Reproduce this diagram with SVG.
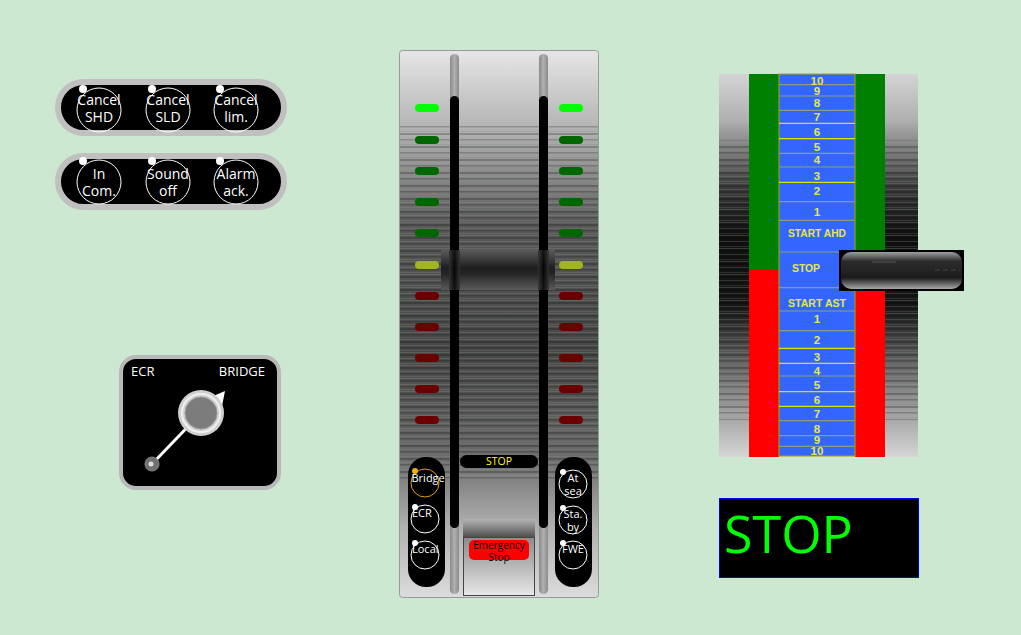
<svg xmlns="http://www.w3.org/2000/svg" width="1021" height="635" viewBox="0 0 1021 635">
<style>
.ui{font-family:"Open Sans","Liberation Sans",sans-serif;fill:#fff}
.btn{fill:none;stroke:#fff;stroke-width:1}
.dot{fill:#fff}
.led{rx:4;ry:4}
.sc{font-family:"Liberation Sans",Arial,sans-serif;font-weight:bold;font-size:11.5px;fill:#e6e64a;text-anchor:middle}
.ly{stroke:#e0e000;stroke-width:1.2}
.lg{stroke:#8c9c7c;stroke-width:1.2}
</style>
<defs>
<linearGradient id="telBg" x1="0" y1="0" x2="0" y2="1">
<stop offset="0" stop-color="#e6e6e6"/>
<stop offset="0.16" stop-color="#adadad"/>
<stop offset="0.32" stop-color="#5a5a5a"/>
<stop offset="0.55" stop-color="#474747"/>
<stop offset="0.74" stop-color="#6a6a6a"/>
<stop offset="0.87" stop-color="#b0b0b0"/>
<stop offset="1" stop-color="#dcdcdc"/>
</linearGradient>
<linearGradient id="indBg" x1="0" y1="0" x2="0" y2="1">
<stop offset="0" stop-color="#d4d4d4"/>
<stop offset="0.12" stop-color="#b0b0b0"/>
<stop offset="0.3" stop-color="#3a3a3a"/>
<stop offset="0.42" stop-color="#111"/>
<stop offset="0.6" stop-color="#151515"/>
<stop offset="0.78" stop-color="#707070"/>
<stop offset="1" stop-color="#d6d6d6"/>
</linearGradient>
<pattern id="streak" width="40" height="13" patternUnits="userSpaceOnUse">
<rect x="0" y="1" width="40" height="1" fill="#7a8c7a" opacity="0.35"/>
<rect x="0" y="3" width="40" height="2" fill="#000" opacity="0.22"/>
<rect x="0" y="7" width="40" height="1" fill="#9aac9a" opacity="0.22"/>
<rect x="0" y="9" width="40" height="1.5" fill="#000" opacity="0.2"/>
<rect x="0" y="12" width="40" height="1" fill="#8a9a8a" opacity="0.2"/>
</pattern>
<linearGradient id="handle" x1="0" y1="0" x2="0" y2="1">
<stop offset="0" stop-color="#5a5a5a"/>
<stop offset="0.45" stop-color="#1e1e1e"/>
<stop offset="0.6" stop-color="#262626"/>
<stop offset="1" stop-color="#5a5a5a"/>
</linearGradient>
<linearGradient id="trackShade" x1="0" y1="0" x2="1" y2="0">
<stop offset="0" stop-color="#333"/>
<stop offset="0.5" stop-color="#000"/>
<stop offset="1" stop-color="#333"/>
</linearGradient>
<linearGradient id="track" x1="0" y1="0" x2="1" y2="0">
<stop offset="0" stop-color="#8a8a8a"/>
<stop offset="0.5" stop-color="#b0b0b0"/>
<stop offset="1" stop-color="#8a8a8a"/>
</linearGradient>
<linearGradient id="esTop" x1="0" y1="0" x2="0" y2="1">
<stop offset="0" stop-color="#b4b4b4"/>
<stop offset="1" stop-color="#505050"/>
</linearGradient>
<linearGradient id="esBox" x1="0" y1="0" x2="0" y2="1">
<stop offset="0" stop-color="#8c8c8c"/>
<stop offset="0.5" stop-color="#b8b8b8"/>
<stop offset="1" stop-color="#e8e8e8"/>
</linearGradient>
<linearGradient id="rHandle" x1="0" y1="0" x2="0" y2="1">
<stop offset="0" stop-color="#a0a0a0"/>
<stop offset="0.25" stop-color="#2c2c2c"/>
<stop offset="0.7" stop-color="#1c1c1c"/>
<stop offset="1" stop-color="#a8a8a8"/>
</linearGradient>
</defs>
<rect width="1021" height="635" fill="#cde8d0"/>

<g id="cancel-panel">
<rect x="58" y="82" width="226" height="51" rx="25.5" fill="#000" stroke="#c0c0c0" stroke-width="6"/>
<g id="btn-cancel-shd"><circle class="btn" cx="99" cy="110" r="22"/><circle class="dot" cx="83" cy="89" r="4"/>
<text class="ui" font-size="14" text-anchor="middle" x="99" y="105">Cancel</text><text class="ui" font-size="14" text-anchor="middle" x="99" y="122">SHD</text></g>
<g id="btn-cancel-sld"><circle class="btn" cx="168" cy="110" r="22"/><circle class="dot" cx="152" cy="89" r="4"/>
<text class="ui" font-size="14" text-anchor="middle" x="168" y="105">Cancel</text><text class="ui" font-size="14" text-anchor="middle" x="168" y="122">SLD</text></g>
<g id="btn-cancel-lim"><circle class="btn" cx="236" cy="110" r="22"/><circle class="dot" cx="220" cy="89" r="4"/>
<text class="ui" font-size="14" text-anchor="middle" x="236" y="105">Cancel</text><text class="ui" font-size="14" text-anchor="middle" x="236" y="122">lim.</text></g>
</g>

<g id="alarm-panel">
<rect x="58" y="156" width="226" height="51" rx="25.5" fill="#000" stroke="#c0c0c0" stroke-width="6"/>
<g id="btn-in-com"><circle class="btn" cx="99" cy="182" r="22"/><circle class="dot" cx="83" cy="161" r="4"/>
<text class="ui" font-size="14" text-anchor="middle" x="99" y="179">In</text><text class="ui" font-size="14" text-anchor="middle" x="99" y="196">Com.</text></g>
<g id="btn-sound-off"><circle class="btn" cx="168" cy="182" r="22"/><circle class="dot" cx="152" cy="161" r="4"/>
<text class="ui" font-size="14" text-anchor="middle" x="168" y="179">Sound</text><text class="ui" font-size="14" text-anchor="middle" x="168" y="196">off</text></g>
<g id="btn-alarm-ack"><circle class="btn" cx="236" cy="182" r="22"/><circle class="dot" cx="220" cy="161" r="4"/>
<text class="ui" font-size="14" text-anchor="middle" x="236" y="179">Alarm</text><text class="ui" font-size="14" text-anchor="middle" x="236" y="196">ack.</text></g>
</g>

<g id="ecr-bridge-switch">
<rect x="121" y="357" width="158" height="131" rx="15" fill="#000" stroke="#b8b8b8" stroke-width="4"/>
<text class="ui" font-size="13" x="131" y="376">ECR</text>
<text class="ui" font-size="13" x="265" y="376" text-anchor="end">BRIDGE</text>
<line x1="201" y1="413" x2="152" y2="464" stroke="#fff" stroke-width="3"/>
<circle cx="152" cy="464" r="7" fill="#707070" stroke="#888" stroke-width="1"/>
<circle cx="151" cy="464" r="2.5" fill="#ddd"/>
<polygon points="225,391 211,397 222,406" fill="#fff"/>
<circle cx="201" cy="413" r="23" fill="#cfcfcf"/>
<circle cx="201" cy="413" r="19" fill="none" stroke="#f0f0f0" stroke-width="2"/>
<circle cx="201" cy="413" r="16" fill="#7c7c7c" stroke="#9a9a9a" stroke-width="1"/>
</g>

<g id="telegraph">
<rect x="399.5" y="50.5" width="199" height="547" rx="3" fill="url(#telBg)" stroke="#9a9a9a" stroke-width="1"/>
<rect x="400" y="125" width="198" height="355" fill="url(#streak)"/>
<rect x="450" y="54" width="9" height="540" rx="4.5" fill="url(#track)"/>
<rect x="539" y="54" width="9" height="540" rx="4.5" fill="url(#track)"/>
<rect x="450" y="96" width="9" height="432" rx="4.5" fill="#000"/>
<rect x="539" y="96" width="9" height="432" rx="4.5" fill="#000"/>
<g id="leds">
<rect class="led" x="415" y="104" width="24" height="8" fill="#00ff00"/><rect class="led" x="559" y="104" width="24" height="8" fill="#00ff00"/>
<rect class="led" x="415" y="136" width="24" height="8" fill="#006600"/><rect class="led" x="559" y="136" width="24" height="8" fill="#006600"/>
<rect class="led" x="415" y="167" width="24" height="8" fill="#006600"/><rect class="led" x="559" y="167" width="24" height="8" fill="#006600"/>
<rect class="led" x="415" y="198" width="24" height="8" fill="#006600"/><rect class="led" x="559" y="198" width="24" height="8" fill="#006600"/>
<rect class="led" x="415" y="229" width="24" height="8" fill="#006600"/><rect class="led" x="559" y="229" width="24" height="8" fill="#006600"/>
<rect class="led" x="415" y="261" width="24" height="8" fill="#a2b41e"/><rect class="led" x="559" y="261" width="24" height="8" fill="#a2b41e"/>
<rect class="led" x="415" y="292" width="24" height="8" fill="#6b0000"/><rect class="led" x="559" y="292" width="24" height="8" fill="#6b0000"/>
<rect class="led" x="415" y="323" width="24" height="8" fill="#6b0000"/><rect class="led" x="559" y="323" width="24" height="8" fill="#6b0000"/>
<rect class="led" x="415" y="354" width="24" height="8" fill="#6b0000"/><rect class="led" x="559" y="354" width="24" height="8" fill="#6b0000"/>
<rect class="led" x="415" y="385" width="24" height="8" fill="#6b0000"/><rect class="led" x="559" y="385" width="24" height="8" fill="#6b0000"/>
<rect class="led" x="415" y="416" width="24" height="8" fill="#6b0000"/><rect class="led" x="559" y="416" width="24" height="8" fill="#6b0000"/>
</g>
<g id="telegraph-handle">
<rect x="441" y="250" width="114" height="40" fill="url(#handle)"/>
<rect x="449" y="250" width="11" height="40" fill="url(#trackShade)" opacity="0.8"/>
<rect x="538" y="250" width="11" height="40" fill="url(#trackShade)" opacity="0.8"/>
</g>
<g id="stop-label">
<rect x="460" y="455" width="78" height="13" rx="6.5" fill="#000"/>
<text class="ui" font-size="10.5" x="499" y="465" text-anchor="middle" style="fill:#ffff00">STOP</text>
</g>
<g id="mode-buttons">
<rect x="408" y="457" width="37" height="130" rx="18" fill="#000"/>
<circle cx="425" cy="483" r="14" fill="none" stroke="#e0a000" stroke-width="1"/><circle cx="415" cy="471" r="3" fill="#f0b000"/>
<text class="ui" font-size="11" x="411.5" y="482">Bridge</text>
<circle class="btn" cx="425" cy="519" r="14"/><circle class="dot" cx="415" cy="507" r="3"/>
<text class="ui" font-size="11" x="412" y="517">ECR</text>
<circle class="btn" cx="425" cy="555" r="14"/><circle class="dot" cx="415" cy="543" r="3"/>
<text class="ui" font-size="11" x="412" y="553">Local</text>
</g>
<g id="state-buttons">
<rect x="555" y="457" width="37" height="130" rx="18" fill="#000"/>
<circle class="btn" cx="573" cy="484" r="14"/><circle class="dot" cx="563" cy="472" r="3"/>
<text class="ui" font-size="11" x="573" y="482" text-anchor="middle">At</text><text class="ui" font-size="11" x="573" y="495" text-anchor="middle">sea</text>
<circle class="btn" cx="573" cy="520" r="14"/><circle class="dot" cx="563" cy="508" r="3"/>
<text class="ui" font-size="11" x="573" y="518" text-anchor="middle">Sta.</text><text class="ui" font-size="11" x="573" y="531" text-anchor="middle">by</text>
<circle class="btn" cx="573" cy="555" r="14"/><circle class="dot" cx="563" cy="543" r="3"/>
<text class="ui" font-size="11" x="573" y="553" text-anchor="middle">FWE</text>
</g>
<g id="emergency-stop">
<rect x="463" y="519" width="72" height="18" fill="url(#esTop)"/>
<rect x="463.5" y="537.5" width="71" height="58" fill="url(#esBox)" stroke="#444" stroke-width="1"/>
<rect x="469" y="540" width="60" height="20" rx="5" fill="#ff0000"/>
<text class="ui" font-size="10" x="499" y="549" text-anchor="middle" style="fill:#000">Emergency</text>
<text class="ui" font-size="10" x="499" y="561" text-anchor="middle" style="fill:#000">Stop</text>
</g>
</g>

<g id="order-indicator">
<rect x="719" y="74" width="199" height="383" fill="url(#indBg)"/>
<rect x="719" y="140" width="199" height="280" fill="url(#streak)"/>
<rect x="749" y="74" width="30" height="196" fill="#008000"/>
<rect x="749" y="270" width="30" height="187" fill="#ff0000"/>
<rect x="855" y="74" width="30" height="196" fill="#008000"/>
<rect x="855" y="270" width="30" height="187" fill="#ff0000"/>
<rect x="779" y="74" width="76" height="382" fill="#3366ff" stroke="#a8a800" stroke-width="1"/>
<g id="scale-lines">
<line class="lg" x1="779" y1="84.7" x2="855" y2="84.7"/>
<line class="lg" x1="779" y1="96" x2="855" y2="96"/>
<line class="lg" x1="779" y1="110.3" x2="855" y2="110.3"/>
<line class="ly" x1="779" y1="123.3" x2="855" y2="123.3"/>
<line class="ly" x1="779" y1="138.7" x2="855" y2="138.7"/>
<line class="lg" x1="779" y1="153.3" x2="855" y2="153.3"/>
<line class="lg" x1="779" y1="167" x2="855" y2="167"/>
<line class="ly" x1="779" y1="182.3" x2="855" y2="182.3"/>
<line class="lg" x1="779" y1="201.7" x2="855" y2="201.7"/>
<line class="lg" x1="779" y1="220.3" x2="855" y2="220.3"/>
<line class="lg" x1="779" y1="252" x2="855" y2="252"/>
<line class="lg" x1="779" y1="287.7" x2="855" y2="287.7"/>
<line class="lg" x1="779" y1="311" x2="855" y2="311"/>
<line class="lg" x1="779" y1="330.7" x2="855" y2="330.7"/>
<line class="ly" x1="779" y1="348.3" x2="855" y2="348.3"/>
<line class="ly" x1="779" y1="363.3" x2="855" y2="363.3"/>
<line class="lg" x1="779" y1="376" x2="855" y2="376"/>
<line class="ly" x1="779" y1="391.7" x2="855" y2="391.7"/>
<line class="ly" x1="779" y1="406.3" x2="855" y2="406.3"/>
<line class="lg" x1="779" y1="420.7" x2="855" y2="420.7"/>
<line class="lg" x1="779" y1="435.7" x2="855" y2="435.7"/>
<line class="lg" x1="779" y1="446.3" x2="855" y2="446.3"/>
</g>
<g id="scale-labels">
<text class="sc" x="817" y="85" font-size="10.5">10</text>
<text class="sc" x="817" y="94.9" font-size="10.5">9</text>
<text class="sc" x="817" y="106.9">8</text>
<text class="sc" x="817" y="121.1">7</text>
<text class="sc" x="817" y="135.6">6</text>
<text class="sc" x="817" y="151.1">5</text>
<text class="sc" x="817" y="164.1">4</text>
<text class="sc" x="817" y="179.6">3</text>
<text class="sc" x="817" y="195.4">2</text>
<text class="sc" x="817" y="216.1">1</text>
<text class="sc" x="817" y="236.8" textLength="58" lengthAdjust="spacingAndGlyphs">START AHD</text>
<text class="sc" x="806" y="272.1" textLength="28" lengthAdjust="spacingAndGlyphs">STOP</text>
<text class="sc" x="817" y="307.1" textLength="58" lengthAdjust="spacingAndGlyphs">START AST</text>
<text class="sc" x="817" y="323.1">1</text>
<text class="sc" x="817" y="344.1">2</text>
<text class="sc" x="817" y="360.6">3</text>
<text class="sc" x="817" y="375.1">4</text>
<text class="sc" x="817" y="389.1">5</text>
<text class="sc" x="817" y="404.1">6</text>
<text class="sc" x="817" y="417.6">7</text>
<text class="sc" x="817" y="432.6">8</text>
<text class="sc" x="817" y="444.3" font-size="10.5">9</text>
<text class="sc" x="817" y="455" font-size="10.5">10</text>
</g>
<g id="indicator-handle">
<rect x="839" y="250" width="125" height="41" fill="#000"/>
<rect x="841" y="252" width="121" height="37" rx="10" fill="url(#rHandle)"/>
<line x1="872" y1="262" x2="896" y2="262" stroke="#555" stroke-width="1"/>
<line x1="935" y1="270" x2="960" y2="270" stroke="#444" stroke-width="1" stroke-dasharray="5,3"/>
</g>
</g>

<g id="stop-display">
<rect x="719.5" y="498.5" width="199" height="79" fill="#000" stroke="#0000ff" stroke-width="1"/>
<text x="724" y="553" font-family="Open Sans, Liberation Sans, sans-serif" font-size="52" fill="#00ff00">STOP</text>
</g>
</svg>
